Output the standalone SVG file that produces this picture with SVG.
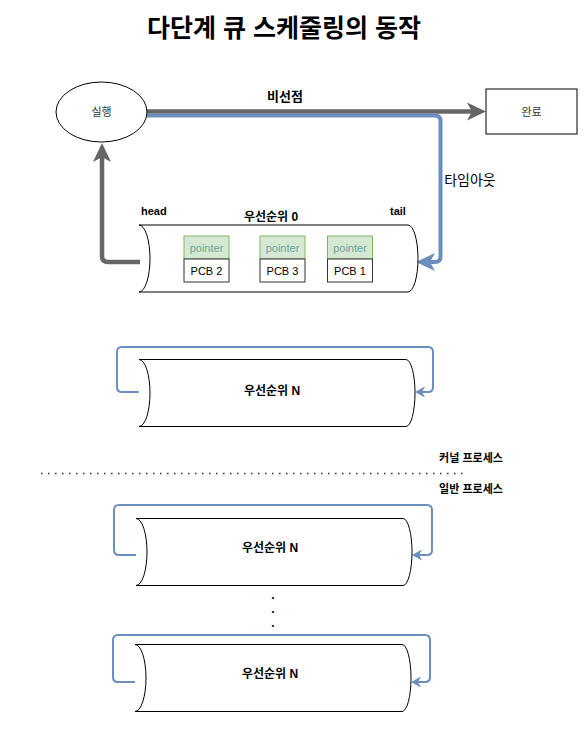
<svg xmlns="http://www.w3.org/2000/svg" width="585" height="735" viewBox="0 0 585 735">
<style>
  text { font-family: "Liberation Sans", "Noto Sans CJK KR", sans-serif; fill: #000; }
  .title { font-size: 25px; font-weight: bold; }
  .lbl { font-size: 11px; fill: #333; }
  .bold { font-size: 11px; font-weight: bold; }
  .qname { font-size: 12px; font-weight: bold; }
  .ptr { fill: #d5e8d4; stroke: #82b366; stroke-width: 1; }
  .ptrt { font-size: 11px; fill: #6aa69c; }
  .pcb { fill: #fff; stroke: #333; stroke-width: 1; }
  .pcbt { font-size: 11px; }
  .cyl { fill: #fff; stroke: #000; stroke-width: 1; }
  .gray { fill: none; stroke: #666; stroke-width: 4.5; }
  .blue { fill: none; stroke: #6c8ebf; stroke-width: 4; }
  .bluethin { fill: none; stroke: #6c8ebf; stroke-width: 2; }
</style>
<defs>
  <marker id="ga" markerUnits="userSpaceOnUse" markerWidth="20" markerHeight="20" viewBox="0 0 20 20" refX="6" refY="10" orient="auto">
    <path d="M0,1 L19,10 L0,19 L5,10 Z" fill="#666"/>
  </marker>
  <marker id="ba" markerUnits="userSpaceOnUse" markerWidth="20" markerHeight="20" viewBox="0 0 20 20" refX="6" refY="10" orient="auto">
    <path d="M0,1 L19,10 L0,19 L5,10 Z" fill="#6c8ebf"/>
  </marker>
  <marker id="bs" markerUnits="userSpaceOnUse" markerWidth="12" markerHeight="12" viewBox="0 0 12 12" refX="4" refY="6" orient="auto">
    <path d="M0,0.5 L10,6 L0,11.5 L3,6 Z" fill="#6c8ebf"/>
  </marker>
</defs>

<text class="title" x="284" y="28" text-anchor="middle" dominant-baseline="central">다단계 큐 스케줄링의 동작</text>

<g id="connectors">
  <path class="gray" d="M147,111.5 H473" marker-end="url(#ga)"/>
  <path class="blue" d="M147,115.5 H435 Q440.5,115.5 440.5,121 V256.5 Q440.5,262 435,262 H429" marker-end="url(#ba)"/>
  <path class="gray" d="M140,262 H108 Q102,262 102,256 V156" marker-end="url(#ga)"/>
  <path class="bluethin" d="M139,392 H122 Q117,392 117,387 V352 Q117,347 122,347 H428 Q433,347 433,352 V387 Q433,392 428,392 H421" marker-end="url(#bs)"/>
  <path class="bluethin" d="M136,555 H119 Q114,555 114,550 V510 Q114,505 119,505 H427 Q432,505 432,510 V550 Q432,555 427,555 H418" marker-end="url(#bs)"/>
  <path class="bluethin" d="M135,682 H118 Q113,682 113,677 V640 Q113,635 118,635 H425 Q430,635 430,640 V677 Q430,682 425,682 H417" marker-end="url(#bs)"/>
  <text class="qname" x="285" y="96" text-anchor="middle" dominant-baseline="central" style="font-size:13px">비선점</text>
  <text x="470" y="180" text-anchor="middle" dominant-baseline="central" style="font-size:14px">타임아웃</text>
</g>

<g id="run">
  <ellipse cx="101.5" cy="112" rx="45.5" ry="30" fill="#fff" stroke="#000" stroke-width="1"/>
  <text class="lbl" x="101.5" y="112" text-anchor="middle" dominant-baseline="central">실행</text>
</g>

<g id="done">
  <rect x="486" y="89" width="91" height="45" fill="#fff" stroke="#000" stroke-width="1"/>
  <text class="lbl" x="531.5" y="111.5" text-anchor="middle" dominant-baseline="central">완료</text>
</g>

<g id="queue0">
  <path class="cyl" d="M139,225 H408 A10,33.5 0 0 1 408,292 H139 A11,33.5 0 0 0 139,225 Z"/>
  <text class="qname" x="271" y="217" text-anchor="middle" dominant-baseline="central">우선순위 0</text>
  <text class="bold" x="141" y="211" dominant-baseline="central">head</text>
  <text class="bold" x="390" y="211" dominant-baseline="central">tail</text>
</g>

<g id="pcb2">
  <rect class="ptr" x="184" y="236" width="45" height="23"/>
  <text class="ptrt" x="206.5" y="247.5" text-anchor="middle" dominant-baseline="central">pointer</text>
  <rect class="pcb" x="184" y="259" width="45" height="23"/>
  <text class="pcbt" x="206.5" y="270.5" text-anchor="middle" dominant-baseline="central">PCB 2</text>
</g>
<g id="pcb3">
  <rect class="ptr" x="260" y="236" width="45" height="23"/>
  <text class="ptrt" x="282.5" y="247.5" text-anchor="middle" dominant-baseline="central">pointer</text>
  <rect class="pcb" x="260" y="259" width="45" height="23"/>
  <text class="pcbt" x="282.5" y="270.5" text-anchor="middle" dominant-baseline="central">PCB 3</text>
</g>
<g id="pcb1">
  <rect class="ptr" x="327.5" y="236" width="45" height="23"/>
  <text class="ptrt" x="350" y="247.5" text-anchor="middle" dominant-baseline="central">pointer</text>
  <rect class="pcb" x="327.5" y="259" width="45" height="23"/>
  <text class="pcbt" x="350" y="270.5" text-anchor="middle" dominant-baseline="central">PCB 1</text>
</g>

<g id="queueN1">
  <path class="cyl" d="M139,359.5 H406 A9,33.5 0 0 1 406,426.5 H139 A11,33.5 0 0 0 139,359.5 Z"/>
  <text class="qname" x="272" y="391" text-anchor="middle" dominant-baseline="central">우선순위 N</text>
</g>

<g id="divider">
  <line x1="41" y1="473.5" x2="466" y2="473.5" stroke="#333" stroke-width="1.5" stroke-dasharray="1.5 5.5"/>
  <text class="bold" x="471" y="458" text-anchor="middle" dominant-baseline="central">커널 프로세스</text>
  <text class="bold" x="471" y="489" text-anchor="middle" dominant-baseline="central">일반 프로세스</text>
</g>

<g id="queueN2">
  <path class="cyl" d="M136,518.5 H403 A9,33.5 0 0 1 403,585.5 H136 A11,33.5 0 0 0 136,518.5 Z"/>
  <text class="qname" x="270" y="548" text-anchor="middle" dominant-baseline="central">우선순위 N</text>
</g>

<g id="ellipsis">
  <text class="qname" x="273" y="599" text-anchor="middle">.</text>
  <text class="qname" x="273" y="613" text-anchor="middle">.</text>
  <text class="qname" x="273" y="627" text-anchor="middle">.</text>
</g>

<g id="queueN3">
  <path class="cyl" d="M135,644.5 H402 A9,33.5 0 0 1 402,711.5 H135 A11,33.5 0 0 0 135,644.5 Z"/>
  <text class="qname" x="270" y="674" text-anchor="middle" dominant-baseline="central">우선순위 N</text>
</g>
</svg>
